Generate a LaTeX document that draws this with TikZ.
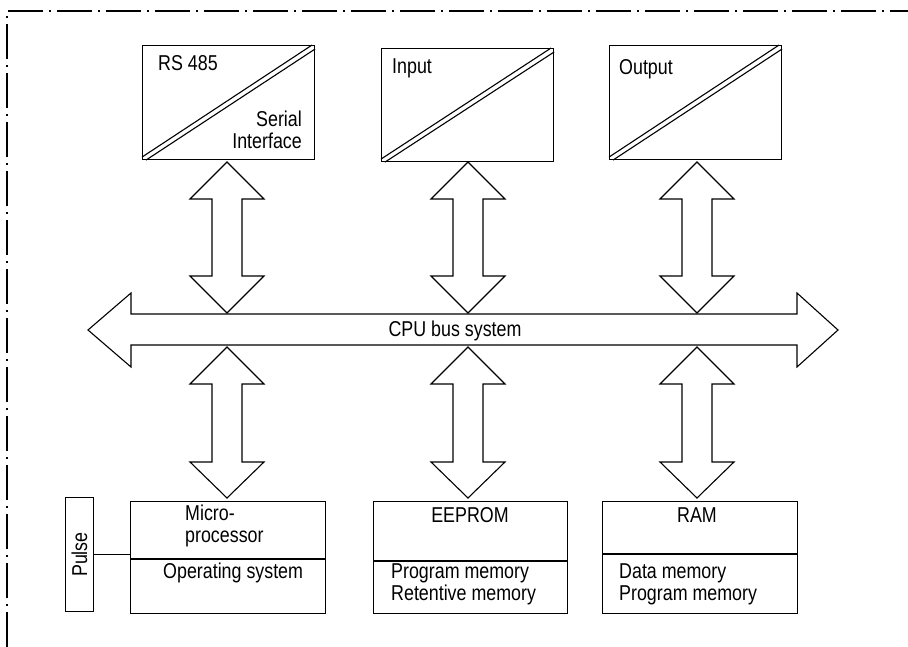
\documentclass[tikz,border=0pt]{standalone}
\usepackage{fontspec}
\setmainfont{Liberation Sans}[FakeStretch=0.83]
\begin{document}
\begin{tikzpicture}[x=1pt,y=-1pt,
  box/.style={draw,line width=1.1pt,inner sep=0pt,anchor=north west},
  lbl/.style={inner sep=0pt,font=\fontsize{21.5}{22}\selectfont},
  frame/.style={line width=1.1pt,dash pattern=on 35pt off 6pt on 2pt off 6pt},
  arr/.style={draw,line width=1.1pt,fill=white,line join=miter}]
\useasboundingbox (0,0) rectangle (908,647);
% frame
\coordinate (fr) at (7,11);
\draw[frame] (fr |- 0,647) -- (fr) -- (fr -| 908,0);
% macro for vertical double arrow
\newcommand{\vdbl}[5]{%
  \draw[arr] (#1,#2) -- (#1+37,#3) -- (#1+15,#3) -- (#1+15,#4) -- (#1+37,#4) -- (#1,#5)
    -- (#1-37,#4) -- (#1-15,#4) -- (#1-15,#3) -- (#1-37,#3) -- cycle;}
% top boxes
\node[box,minimum width=172pt,minimum height=114pt] (rs) at (142,45) {};
\node[box,minimum width=172pt,minimum height=113pt] (in) at (381,48) {};
\node[box,minimum width=172pt,minimum height=114pt] (out) at (609,45) {};
\foreach \b in {rs,in,out}{
  \draw[line width=1.1pt] ([yshift=3pt]\b.south west) -- ([xshift=-3pt]\b.north east);
  \draw[line width=1.1pt] ([xshift=4pt]\b.south west) -- ([yshift=-4pt]\b.north east);
}
\node[lbl,anchor=base west] (rst) at (158,71) {RS 485};
\node[lbl,anchor=base east,align=right] (sit) at (302,149) {Serial\\Interface};
\node[lbl,anchor=base west] (int) at (392,74) {Input};
\node[lbl,anchor=base west] (outt) at (619,75) {Output};
% bus
\draw[arr] (88,330) -- (131,293) -- (131,314) -- (797,314) -- (797,293) -- (838,330)
  -- (797,367) -- (797,345) -- (131,345) -- (131,367) -- cycle;
\node[lbl,anchor=base] (bus) at (455,336) {CPU bus system};
% arrows
\vdbl{227}{162}{199}{276}{313}
\vdbl{468}{162}{199}{276}{313}
\vdbl{697}{162}{199}{276}{313}
\vdbl{227}{347}{384}{462}{498}
\vdbl{468}{347}{384}{462}{498}
\vdbl{697}{347}{384}{462}{498}
% bottom boxes
\node[box,minimum width=195pt,minimum height=112pt] (mp) at (130,501) {};
\node[box,minimum width=194pt,minimum height=112pt] (ee) at (373,501) {};
\node[box,minimum width=195pt,minimum height=112pt] (ram) at (602,501) {};
\node[box,minimum width=28pt,minimum height=114pt] (pulse) at (65,497) {};
\node[lbl,rotate=90] (pt) at (pulse.center) {Pulse};
\draw[line width=1.1pt] (pulse.east) -- (pulse.east -| mp.west);
\draw[line width=1.1pt] (mp.west |- 0,559) -- (mp.east |- 0,559);
\draw[line width=1.1pt] (ee.west |- 0,561) -- (ee.east |- 0,561);
\draw[line width=1.1pt] (ram.west |- 0,554) -- (ram.east |- 0,554);
\node[lbl,anchor=base west,align=left] (mpt) at (185,542) {Micro-\\processor};
\node[lbl,anchor=base west] (ost) at (163,578) {Operating system};
\node[lbl,anchor=base] (eet) at (470,522) {EEPROM};
\node[lbl,anchor=base west,align=left] (pmt) at (391,600) {Program memory\\Retentive memory};
\node[lbl,anchor=base] (ramt) at (697,522) {RAM};
\node[lbl,anchor=base west,align=left] (dmt) at (619,600) {Data memory\\Program memory};
\end{tikzpicture}
\end{document}
